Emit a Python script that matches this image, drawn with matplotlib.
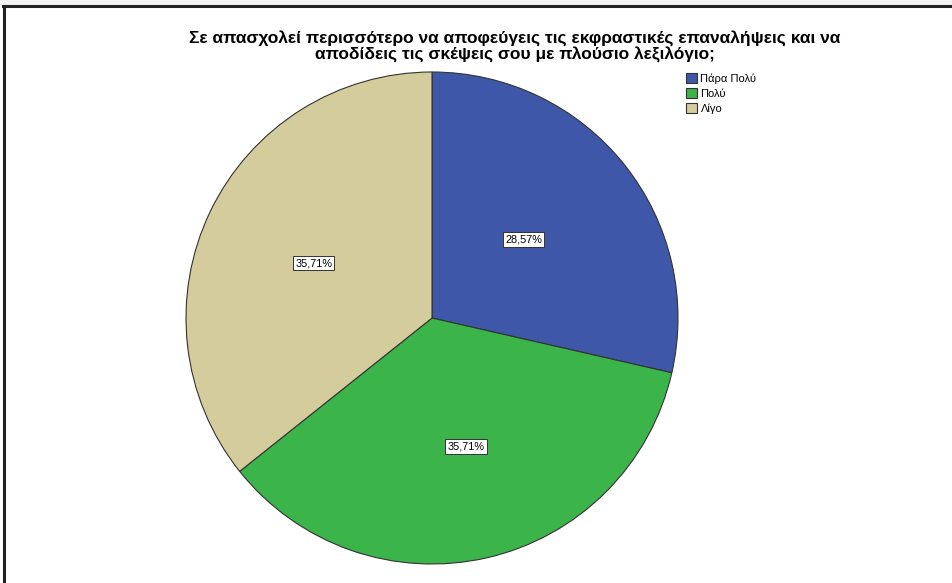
import matplotlib
matplotlib.use("Agg")
import matplotlib.pyplot as plt
from matplotlib.patches import Rectangle
from matplotlib.lines import Line2D
import numpy as np

categories = ["Πάρα Πολύ", "Πολύ", "Λίγο"]
values = [28.57, 35.71, 35.71]
colors = ["#3f57a8", "#3bb44a", "#d4cc9c"]
title = "Σε απασχολεί περισσότερο να αποφεύγεις τις εκφραστικές επαναλήψεις και να\nαποδίδεις τις σκέψεις σου με πλούσιο λεξιλόγιο;"
# label positions (fraction of radius, angle in degrees) as placed by the original
label_pos = [(0.49, 40.6), (0.54, -75.2), (0.53, 155.2)]

W, H = 953, 583
fig = plt.figure(figsize=(W / 100, H / 100), dpi=100)
fig.patch.set_facecolor("white")

# outer frame
fig.add_artist(Rectangle((0, 1 - 5 / H), 1, 5 / H, transform=fig.transFigure,
                         facecolor="#f2f2f2", edgecolor="none"))
fig.add_artist(Line2D([4 / W, 4 / W], [0, 1 - 6 / H], transform=fig.transFigure,
                      color="#222222", lw=2.2))
fig.add_artist(Line2D([3 / W, 1], [1 - 6 / H, 1 - 6 / H], transform=fig.transFigure,
                      color="#222222", lw=2.2))

cx, cy, r = 432, 318, 246
ax = fig.add_axes([(cx - r) / W, (H - cy - r) / H, 2 * r / W, 2 * r / H])
wedges, _ = ax.pie(values, colors=colors, startangle=90, counterclock=False,
                   wedgeprops=dict(edgecolor="#333333", linewidth=0.8))
ax.set_xlim(-1, 1)
ax.set_ylim(-1, 1)
ax.set_aspect("equal")
ax.axis("off")

for v, (d, a) in zip(values, label_pos):
    ax.text(d * np.cos(np.radians(a)), d * np.sin(np.radians(a)),
            f"{v:.2f}%".replace(".", ","), ha="center", va="center",
            fontsize=7.8, family="Liberation Sans",
            bbox=dict(boxstyle="square,pad=0.2", facecolor="white",
                      edgecolor="#333333", linewidth=0.7))

fig.text(515 / W, 1 - 46.5 / H, title, ha="center", va="center", fontsize=12.5,
         fontweight="bold", family="Liberation Sans", linespacing=1.02)

leg = fig.legend(wedges, categories, loc="upper left",
                 bbox_to_anchor=(686 / W, 1 - 73 / H), frameon=False,
                 prop=dict(family="Liberation Sans", size=8),
                 handlelength=0.95, handleheight=0.95, handletextpad=0.35,
                 labelspacing=0.4, borderaxespad=0, borderpad=0)

fig.savefig("out.png", dpi=100)
